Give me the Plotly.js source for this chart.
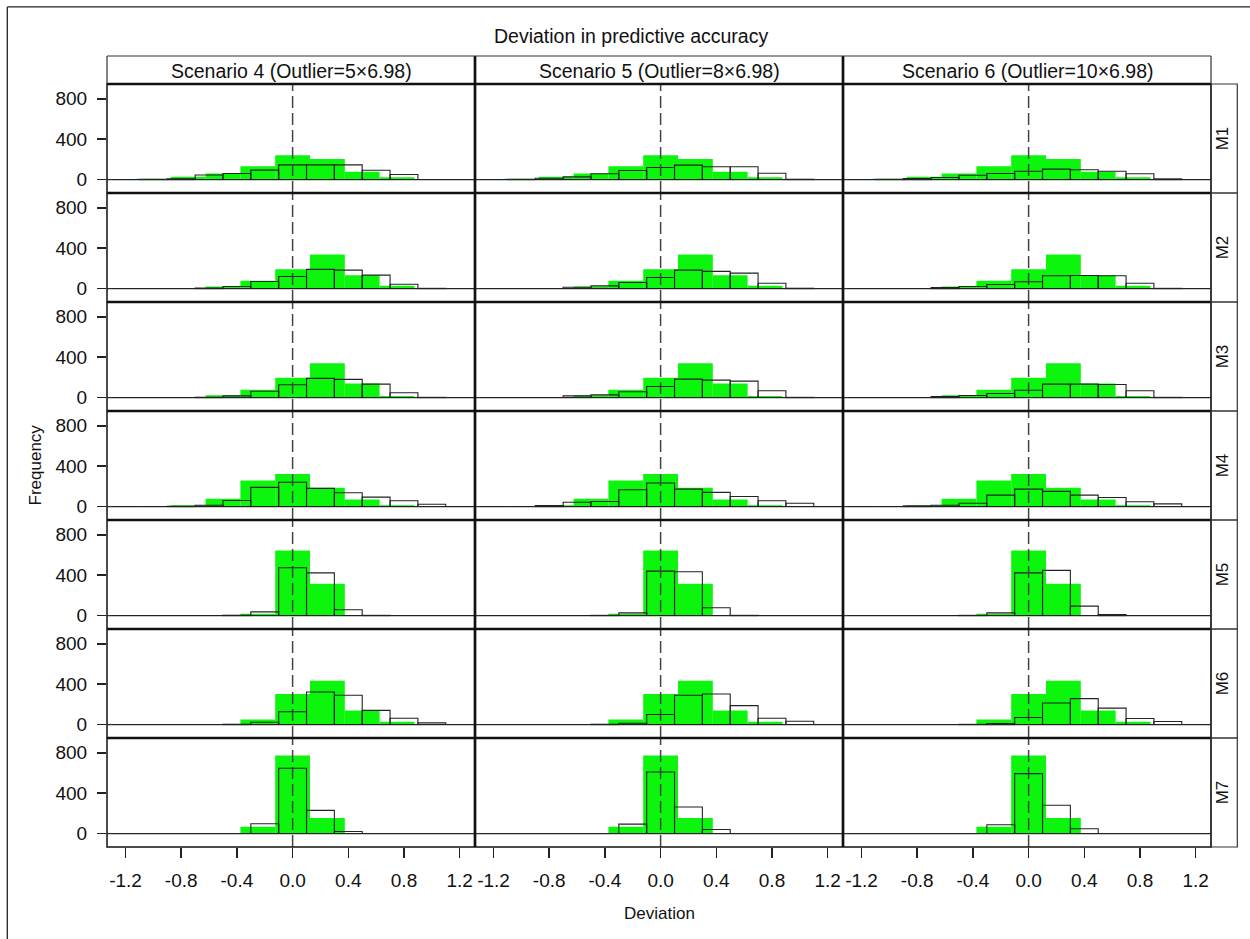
<!DOCTYPE html>
<html>
<head>
<meta charset="utf-8">
<script src="https://cdn.plot.ly/plotly-3.0.1.min.js"></script>
<style>html,body{margin:0;padding:0;background:#fff;}#chart{width:1250px;height:939px;}</style>
</head>
<body>
<div id="chart"></div>
<script>
// ---------- data ----------
const chartTitle = "Deviation in predictive accuracy";
const xTitle = "Deviation";
const yTitle = "Frequency";
const scenarios = ["Scenario 4 (Outlier=5\u00d76.98)", "Scenario 5 (Outlier=8\u00d76.98)", "Scenario 6 (Outlier=10\u00d76.98)"];
const methods = ["M1", "M2", "M3", "M4", "M5", "M6", "M7"];
const xTickVals = [-1.2, -0.8, -0.4, 0.0, 0.4, 0.8, 1.2];
const xTickLabels = ["-1.2", "-0.8", "-0.4", "0.0", "0.4", "0.8", "1.2"];
const yTickVals = [0, 400, 800];
const yTickLabels = ["0", "400", "800"];

// green (filled) histogram: bin centres (width 0.25), same in every scenario
const greenBins = [-1.25, -1.0, -0.75, -0.5, -0.25, 0.0, 0.25, 0.5, 0.75, 1.0];
const greenM1 = [0, 7, 28, 60, 133, 240, 203, 77, 22, 0];
const greenM2 = [0, 0, 3, 20, 77, 192, 337, 133, 27, 0];
const greenM3 = [0, 0, 4, 22, 78, 195, 340, 138, 15, 0];
const greenM4 = [0, 2, 13, 77, 257, 323, 187, 70, 13, 0];
const greenM5 = [0, 0, 0, 0, 17, 645, 315, 0, 0, 0];
const greenM6 = [0, 0, 0, 3, 50, 303, 433, 140, 27, 0];
const greenM7 = [0, 0, 0, 0, 67, 773, 155, 0, 0, 0];

// outlined histogram: bin centres (width 0.2)
const outlineBins = [-1.2, -1.0, -0.8, -0.6, -0.4, -0.2, 0.0, 0.2, 0.4, 0.6, 0.8, 1.0, 1.2];
// Scenario 4
const s4M1 = [0, 2, 8, 45, 60, 93, 145, 145, 145, 92, 50, 0, 0];
const s4M2 = [0, 0, 0, 5, 20, 70, 120, 190, 183, 133, 43, 2, 0];
const s4M3 = [0, 0, 0, 3, 17, 63, 127, 190, 180, 133, 47, 2, 0];
const s4M4 = [0, 0, 3, 13, 60, 190, 240, 180, 137, 93, 57, 23, 0];
const s4M5 = [0, 0, 0, 0, 3, 37, 473, 423, 57, 2, 0, 0, 0];
const s4M6 = [0, 0, 0, 0, 3, 23, 127, 323, 290, 140, 63, 17, 0];
const s4M7 = [0, 0, 0, 0, 0, 97, 647, 230, 20, 0, 0, 0, 0];
// Scenario 5
const s5M1 = [0, 2, 13, 27, 57, 90, 120, 143, 127, 127, 63, 3, 0];
const s5M2 = [0, 0, 0, 13, 27, 60, 110, 183, 170, 153, 53, 3, 0];
const s5M3 = [0, 0, 0, 17, 27, 57, 110, 183, 173, 163, 67, 2, 0];
const s5M4 = [0, 0, 10, 43, 50, 167, 233, 173, 140, 100, 57, 33, 0];
const s5M5 = [0, 0, 0, 0, 2, 27, 440, 433, 77, 2, 0, 0, 0];
const s5M6 = [0, 0, 0, 0, 3, 13, 100, 290, 303, 187, 63, 33, 0];
const s5M7 = [0, 0, 0, 0, 0, 93, 610, 263, 40, 0, 0, 0, 0];
// Scenario 6
const s6M1 = [0, 2, 10, 20, 43, 60, 83, 103, 97, 83, 57, 7, 0];
const s6M2 = [0, 0, 0, 10, 20, 40, 67, 127, 130, 127, 53, 2, 0];
const s6M3 = [0, 0, 0, 10, 20, 40, 73, 133, 133, 130, 67, 2, 0];
const s6M4 = [0, 0, 7, 13, 33, 113, 173, 150, 113, 90, 47, 27, 0];
const s6M5 = [0, 0, 0, 0, 2, 27, 423, 447, 93, 10, 0, 0, 0];
const s6M6 = [0, 0, 0, 0, 2, 10, 70, 213, 257, 163, 60, 30, 0];
const s6M7 = [0, 0, 0, 0, 0, 87, 593, 280, 47, 0, 0, 0, 0];

const greenRows = [greenM1, greenM2, greenM3, greenM4, greenM5, greenM6, greenM7];
const outlineCols = [
  [s4M1, s4M2, s4M3, s4M4, s4M5, s4M6, s4M7],
  [s5M1, s5M2, s5M3, s5M4, s5M5, s5M6, s5M7],
  [s6M1, s6M2, s6M3, s6M4, s6M5, s6M6, s6M7]
];

// ---------- layout geometry ----------
const W = 1250, H = 939;
const L = 106.7, R = 1210.7, T = 84, B = 846.7;
const pw = R - L, ph = B - T;
const px = v => (v - L) / pw;   // pixel -> paper x
const py = v => (B - v) / ph;   // pixel -> paper y
const nC = 3, nR = 7;
const FONT = "Liberation Sans, Arial, sans-serif";
const GREEN = "#0cf50c";

const traces = [];
const layout = {
  width: W, height: H,
  margin: {l: L, r: W - R, t: T, b: H - B, pad: 0},
  paper_bgcolor: "#fff", plot_bgcolor: "#fff",
  showlegend: false, hovermode: false, barmode: "overlay",
  font: {family: FONT, size: 19, color: "#000"},
  shapes: [], annotations: []
};

const xid = c => c === 0 ? "x" : "x" + (c + 1);
const yid = r => r === 0 ? "y" : "y" + (r + 1);
const xkey = c => c === 0 ? "xaxis" : "xaxis" + (c + 1);
const ykey = r => r === 0 ? "yaxis" : "yaxis" + (r + 1);

for (let c = 0; c < nC; c++) {
  layout[xkey(c)] = {
    domain: [c / nC, (c + 1) / nC], anchor: "y" + nR,
    range: [-1.333, 1.31], autorange: false,
    tickvals: xTickVals, ticktext: xTickLabels,
    ticks: "outside", ticklen: 10, tickwidth: 1.5, tickcolor: "#222",
    ticklabelstandoff: 6,
    showgrid: false, zeroline: false, showline: false,
    tickfont: {family: FONT, size: 19, color: "#111"}
  };
}
for (let r = 0; r < nR; r++) {
  layout[ykey(r)] = {
    domain: [1 - (r + 1) / nR, 1 - r / nR], anchor: "x",
    range: [-133, 946], autorange: false,
    tickvals: yTickVals, ticktext: yTickLabels,
    ticks: "outside", ticklen: 9, tickwidth: 1.5, tickcolor: "#222",
    ticklabelstandoff: 6,
    showgrid: false, zeroline: false, showline: false,
    tickfont: {family: FONT, size: 19, color: "#111"}
  };
}

for (let c = 0; c < nC; c++) {
  for (let r = 0; r < nR; r++) {
    traces.push({
      type: "bar", x: greenBins, y: greenRows[r], width: 0.25,
      xaxis: xid(c), yaxis: yid(r),
      marker: {color: GREEN, line: {width: 0}}
    });
    traces.push({
      type: "bar", x: outlineBins, y: outlineCols[c][r], width: 0.2,
      xaxis: xid(c), yaxis: yid(r),
      marker: {color: "rgba(0,0,0,0)", line: {color: "#222", width: 1.1}}
    });
    // baseline at 0
    layout.shapes.push({type: "line", xref: xid(c) + " domain", yref: yid(r),
      x0: 0, x1: 1, y0: 0, y1: 0, line: {color: "#333", width: 1.2}, layer: "below"});
    // dashed reference line at 0
    layout.shapes.push({type: "line", xref: xid(c), yref: yid(r) + " domain",
      x0: 0, x1: 0, y0: 0, y1: 1, line: {color: "#444", width: 1.5, dash: "12px,5px"}});
  }
}

const S = layout.shapes;
const stripTop = py(56);
const rightEdge = px(1237);
// outer panel frame
S.push({type: "rect", xref: "paper", yref: "paper", x0: 0, x1: 1, y0: 0, y1: 1, line: {color: "#111", width: 1.5}});
// row dividers + strip bottom
for (let k = 1; k <= nR; k++) {
  S.push({type: "line", xref: "paper", yref: "paper", x0: 0, x1: 1, y0: k / nR, y1: k / nR, line: {color: "#111", width: 2.7}});
}
// column dividers
for (let k = 1; k < nC; k++) {
  S.push({type: "line", xref: "paper", yref: "paper", x0: k / nC, x1: k / nC, y0: 0, y1: stripTop, line: {color: "#111", width: 2.7}});
}
// top strip box
S.push({type: "line", xref: "paper", yref: "paper", x0: 0, x1: 1, y0: stripTop, y1: stripTop, line: {color: "#333", width: 1.2}});
S.push({type: "line", xref: "paper", yref: "paper", x0: 0, x1: 0, y0: 1, y1: stripTop, line: {color: "#333", width: 1.2}});
S.push({type: "line", xref: "paper", yref: "paper", x0: 1, x1: 1, y0: 1, y1: stripTop, line: {color: "#333", width: 1.2}});
// right strips
for (let r = 0; r < nR; r++) {
  S.push({type: "rect", xref: "paper", yref: "paper", x0: 1, x1: rightEdge,
    y0: 1 - (r + 1) / nR, y1: 1 - r / nR, line: {color: "#333", width: 1.2}});
}
// page frame (left and top)
S.push({type: "line", xref: "paper", yref: "paper", x0: px(7), x1: px(7), y0: py(7), y1: py(939), line: {color: "#222", width: 1.3}});
S.push({type: "line", xref: "paper", yref: "paper", x0: px(7), x1: px(1250), y0: py(7), y1: py(7), line: {color: "#222", width: 1.3}});

const A = layout.annotations;
A.push({text: chartTitle, xref: "paper", yref: "paper", x: px(631), y: py(36), showarrow: false,
  xanchor: "center", yanchor: "middle", font: {family: FONT, size: 19.5, color: "#111"}});
A.push({text: xTitle, xref: "paper", yref: "paper", x: px(659), y: py(913), showarrow: false,
  xanchor: "center", yanchor: "middle", font: {family: FONT, size: 17, color: "#111"}});
A.push({text: yTitle, xref: "paper", yref: "paper", x: px(35), y: py(465), showarrow: false, textangle: -90,
  xanchor: "center", yanchor: "middle", font: {family: FONT, size: 17, color: "#111"}});
for (let c = 0; c < nC; c++) {
  A.push({text: scenarios[c], xref: "paper", yref: "paper", x: (c + 0.5) / nC, y: py(71), showarrow: false,
    xanchor: "center", yanchor: "middle", font: {family: FONT, size: 19.5, color: "#111"}});
}
for (let r = 0; r < nR; r++) {
  A.push({text: methods[r], xref: "paper", yref: "paper", x: px(1222.5), y: 1 - (r + 0.5) / nR, showarrow: false,
    textangle: -90, xanchor: "center", yanchor: "middle", font: {family: FONT, size: 17, color: "#111"}});
}

Plotly.newPlot("chart", traces, layout, {staticPlot: true, displayModeBar: false});
</script>
</body>
</html>
